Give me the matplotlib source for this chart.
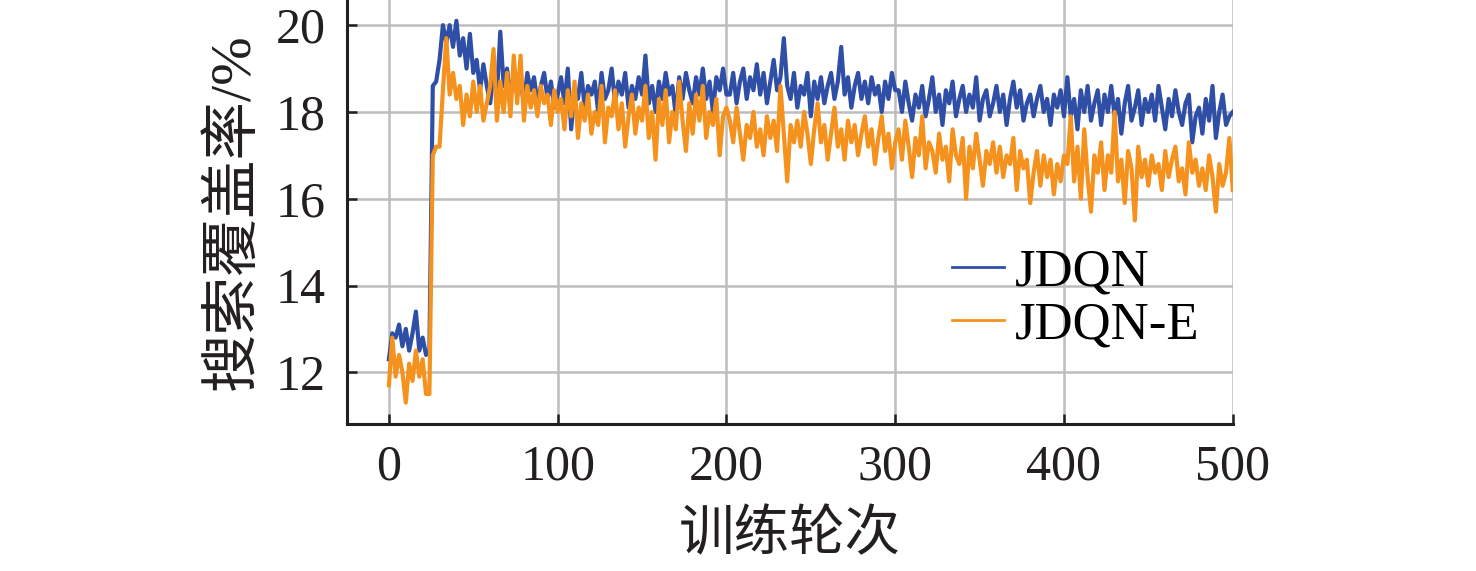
import matplotlib
matplotlib.use('Agg')
import matplotlib.pyplot as plt
import numpy as np

plt.rcParams['font.family'] = ['Liberation Serif', 'Noto Sans CJK SC', 'DejaVu Sans']
plt.rcParams['font.size'] = 36

# training epochs, every 2nd epoch
epochs = np.arange(0, 501, 2)

# JDQN search coverage (%)
jdqn = [
    12.3, 12.9, 12.8, 13.1, 12.6, 13.0, 12.5, 12.9, 13.4, 12.5, 12.8, 12.4, 12.5,
    18.6, 18.7, 19.2, 20.0, 19.6, 20.0, 19.5, 20.1, 19.3, 19.7,
    19.0, 19.8, 18.9, 19.2, 18.5, 19.1, 18.6, 18.2, 18.9, 18.4,
    19.85, 18.6, 19.0, 18.3, 18.9, 18.4, 18.7, 18.2, 18.9, 18.5,
    18.8, 18.2, 18.6, 18.9, 18.3, 18.7, 18.1, 18.4,
    18.8, 18.2, 19.0, 17.6, 18.5, 18.3, 18.9, 18.1, 18.6, 18.4,
    18.7, 18.0, 18.9, 18.3, 18.5, 19.0, 18.2, 18.7, 18.4, 18.9,
    18.1, 18.6, 18.3, 18.8, 18.4, 19.3, 18.2, 18.6, 18.0, 18.7,
    18.3, 18.9, 18.4, 18.6, 17.9, 18.8, 18.3, 18.9, 18.5, 18.2,
    18.8, 18.4, 19.0, 18.3, 18.7, 18.0, 18.8, 18.5, 19.0, 18.4,
    18.4, 18.9, 18.2, 18.7, 19.0, 18.3, 18.8, 18.5, 19.1, 18.4,
    18.9, 18.2, 18.7, 19.2, 18.5, 18.8, 19.7, 18.6, 18.3, 18.9,
    18.1, 18.6, 18.4, 18.9, 17.9, 18.7, 18.3, 18.8, 18.2, 18.6,
    18.9, 18.3, 18.7, 19.5, 18.4, 18.8, 18.1, 18.6, 18.9, 18.3,
    18.7, 18.2, 18.8, 18.4, 18.6, 18.0, 18.7, 18.3, 18.9, 18.5,
    18.5, 18.0, 18.7, 18.2, 17.8, 18.4, 18.1, 18.6, 17.9, 18.3,
    18.8, 18.0, 18.4, 17.7, 18.5, 18.2, 18.7, 17.9, 18.3, 18.6,
    18.0, 18.4, 18.1, 18.8, 17.8, 18.3, 18.5, 17.9, 18.2, 18.6,
    18.0, 18.4, 17.7, 18.3, 18.7, 18.1, 18.5, 17.8, 18.2, 18.4,
    17.9, 18.3, 18.6, 18.0, 18.3, 17.7, 18.4, 18.1, 18.5, 17.9,
    18.8, 17.9, 18.3, 17.6, 18.5, 18.0, 18.6, 17.8, 18.2, 18.5,
    17.7, 18.4, 18.0, 18.6, 17.9, 18.3, 17.5, 18.2, 18.6, 17.8,
    18.1, 18.5, 17.7, 18.3, 18.0, 18.4, 17.8, 18.6, 18.1, 17.6,
    18.3, 17.9, 18.5, 18.0, 17.7, 18.2, 18.4, 17.3, 17.9, 18.1,
    17.5, 18.3, 17.8, 18.6, 17.4, 18.0, 18.4, 17.7, 17.9, 18.0,
]

# JDQN-E search coverage (%)
jdqn_e = [
    11.7, 12.8, 11.9, 12.4, 12.0, 11.3, 12.2, 11.8, 12.5, 11.9, 12.3, 11.5, 11.5,
    17.0, 17.2, 17.2, 18.5, 19.7, 18.4, 18.9, 18.3, 18.6, 17.7,
    18.4, 17.9, 18.7, 18.0, 18.6, 17.8, 18.2, 18.6, 19.45, 17.8,
    18.7, 18.0, 18.9, 17.9, 19.3, 18.2, 19.3, 17.8, 18.6, 18.1,
    18.5, 17.9, 18.6, 18.2, 18.4, 17.7, 18.5, 18.0,
    18.3, 17.6, 18.5, 17.9, 18.7, 17.4, 18.2, 17.8, 18.4, 17.5,
    18.0, 17.7, 18.6, 17.3, 18.1, 17.9, 18.5, 17.6, 18.2, 17.2,
    17.9, 18.4, 17.5, 18.1, 17.8, 18.6, 17.4, 18.0, 16.9, 18.3,
    17.7, 18.5, 17.3, 18.0, 17.6, 18.7, 17.8, 17.1, 18.2, 17.5,
    18.4, 17.8, 18.6, 17.4, 18.0, 17.7, 18.3, 17.0, 17.9, 18.1,
    17.8, 17.3, 18.1, 17.5, 16.9, 17.7, 17.4, 18.0, 17.2, 17.6,
    17.0, 17.9, 17.4, 17.8, 17.1, 18.6, 17.5, 16.4, 17.7, 17.3,
    17.8, 17.2, 18.0, 17.5, 16.8, 17.6, 18.2, 17.3, 17.7, 16.9,
    17.5, 18.1, 17.2, 17.6, 16.9, 17.8, 17.3, 17.7, 17.0, 17.5,
    17.9, 17.2, 17.6, 16.8, 17.4, 17.9, 17.1, 17.5, 16.7, 17.3,
    17.6, 16.9, 17.8, 17.2, 16.5, 17.4, 17.0, 17.9, 16.7, 17.3,
    17.1, 16.6, 17.5, 16.9, 17.2, 16.4, 17.6, 17.0, 16.8, 17.4,
    16.0, 17.2, 16.7, 17.5, 16.9, 16.3, 17.1, 16.8, 17.3, 16.6,
    17.2, 16.5, 17.0, 16.8, 17.4, 16.2, 17.1, 16.7, 16.9, 15.9,
    16.6, 17.1, 16.3, 17.0, 16.5, 16.9, 16.1, 16.8, 16.4, 17.0,
    16.8, 17.9, 16.4, 17.2, 16.0, 17.6, 16.5, 15.7, 17.0, 16.6,
    17.3, 16.2, 17.0, 16.6, 18.0, 16.4, 16.9, 15.9, 17.1, 16.7,
    15.5, 17.2, 16.5, 16.9, 16.3, 17.0, 16.6, 16.8, 16.2, 17.1,
    16.5, 16.9, 17.2, 16.4, 16.7, 16.1, 17.3, 16.6, 16.9, 16.3,
    16.7, 16.2, 17.0, 16.5, 15.7, 16.8, 16.3, 16.6, 17.4, 16.2,
]

xticks = [0, 100, 200, 300, 400, 500]
yticks = [12, 14, 16, 18, 20]

fig = plt.figure(figsize=(14.76, 5.71), dpi=100)
ax = fig.add_axes([0.2349, 0.2583, 0.6003, 0.7417])

ax.plot(epochs, jdqn, color='#2f4ea6', lw=3.0, label='JDQN', zorder=3)
ax.plot(epochs, jdqn_e, color='#f5921e', lw=3.0, label='JDQN-E', zorder=4)

ax.set_xlim(-25, 500)
ax.set_ylim(10.82, 20.58)
ax.set_xticks(xticks)
ax.set_yticks(yticks)
ax.grid(True, color='#bdbdbd', lw=1.8)
ax.set_axisbelow(True)

for s in ['top', 'right']:
    ax.spines[s].set_visible(False)
for s in ['left', 'bottom']:
    ax.spines[s].set_linewidth(2.2)
    ax.spines[s].set_color('#231f20')
ax.tick_params(direction='in', length=7, width=1.8, color='#231f20',
               labelsize=36, labelcolor='#231f20')
ax.tick_params(axis='y', pad=15)
ax.tick_params(axis='x', pad=15)

ax.set_xlabel('训练轮次', fontsize=40, color='#231f20', labelpad=14)
ax.set_ylabel('搜索覆盖率/%', fontsize=42, color='#231f20', labelpad=11)

leg = ax.legend(loc='center left', bbox_to_anchor=(0.653, 0.294), frameon=False,
                fontsize=38, borderpad=0, handlelength=1.0, handletextpad=0.2,
                labelspacing=0.08)
for h in leg.get_lines():
    h.set_linewidth(2.0)

fig.savefig('out.png', dpi=100)
